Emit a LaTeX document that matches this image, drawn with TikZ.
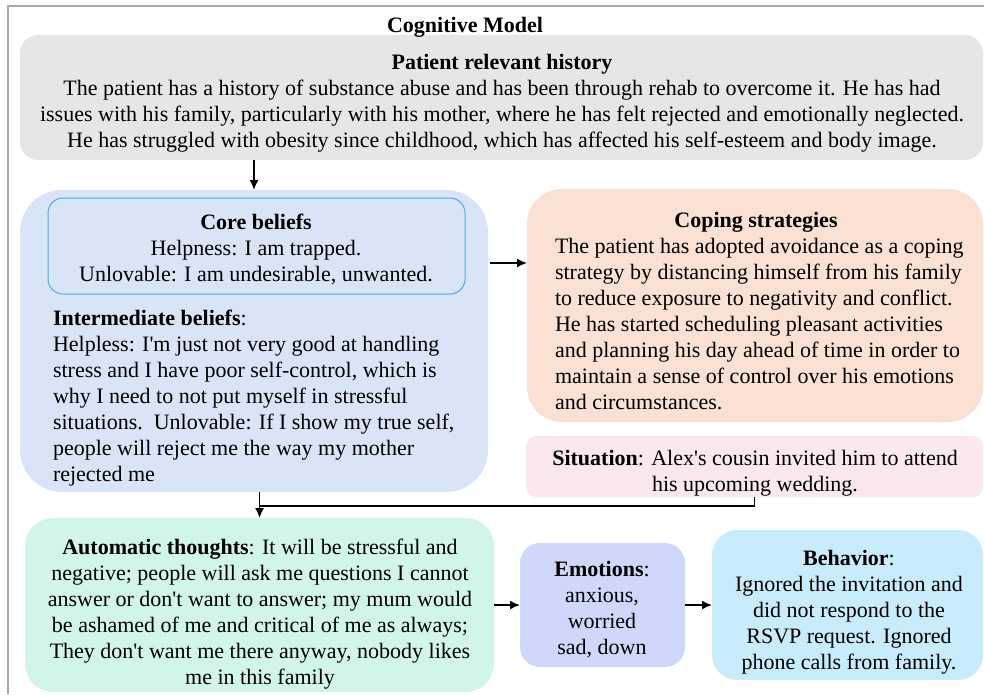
\documentclass[tikz,border=0pt]{standalone}
\usepackage{fontspec}
\newfontfamily\tnr{Liberation Serif}
\usetikzlibrary{arrows.meta}
\definecolor{histcol}{HTML}{E6E6E6}
\definecolor{bluecol}{HTML}{DAE4F7}
\definecolor{corecol}{HTML}{4BADE8}
\definecolor{copecol}{HTML}{FAE1D4}
\definecolor{sitcol}{HTML}{FAE8EC}
\definecolor{autocol}{HTML}{D1F5E8}
\definecolor{emocol}{HTML}{CFD8FA}
\definecolor{behcol}{HTML}{C8ECFC}
\definecolor{framecol}{HTML}{A8A8A8}
\tikzset{
  every node/.style={font=\tnr\fontsize{22}{26}\selectfont, inner sep=0pt, outer sep=0pt},
  box/.style={draw=none, rectangle},
  txt/.style={align=center, anchor=north},
  ltxt/.style={align=left, anchor=north west},
  arr/.style={-{Latex[length=10pt,width=9pt]}, line width=1.6pt},
  conn/.style={line width=1.6pt},
  framel/.style={draw=framecol, line width=2pt}
}
\begin{document}
\begin{tikzpicture}[x=1pt, y=-1pt]
\useasboundingbox (0,0) rectangle (984,694);
\draw[framel] (984,6) -- (8,6) -- (8,694);

% boxes
\node[box, fill=histcol, rounded corners=18pt, minimum width=963pt, minimum height=125pt] (hist) at (501.5,97.5) {};
\node[box, fill=bluecol, rounded corners=42pt, minimum width=468pt, minimum height=302pt] (blue) at (254,341) {};
\node[box, draw=corecol, line width=1pt, rounded corners=15pt, minimum width=417pt, minimum height=96pt] (core) at (256.5,246) {};
\node[box, fill=copecol, rounded corners=35pt, minimum width=456pt, minimum height=233pt] (coping) at (755,305.5) {};
\node[box, fill=sitcol, rounded corners=10pt, minimum width=457pt, minimum height=61pt] (sit) at (754.5,466.5) {};
\node[box, fill=autocol, rounded corners=28pt, minimum width=469pt, minimum height=174pt] (auto) at (259.5,605) {};
\node[box, fill=emocol, rounded corners=20pt, minimum width=165pt, minimum height=124pt] (emo) at (602.5,605) {};
\node[box, fill=behcol, rounded corners=25pt, minimum width=271pt, minimum height=150pt] (beh) at (847.5,605) {};

% texts
\node[txt] (title) at (465,17) {\textbf{Cognitive Model}};
\node[txt] (hist-t) at (502,54) {\textbf{Patient relevant history}\\
The patient has a history of substance abuse and has been through rehab to overcome it. He has had\\
issues with his family, particularly with his mother, where he has felt rejected and emotionally neglected.\\
He has struggled with obesity since childhood, which has affected his self-esteem and body image.};
\node[txt] (core-t) at (256,214) {\textbf{Core beliefs}\\
Helpness: I am trapped.\\
Unlovable: I am undesirable, unwanted.};
\node[ltxt] (inter-t) at (53,310) {\textbf{Intermediate beliefs}:\\
Helpless: I'm just not very good at handling\\
stress and I have poor self-control, which is\\
why I need to not put myself in stressful\\
situations.\ \ Unlovable: If I show my true self,\\
people will reject me the way my mother\\
rejected me};
\node[ltxt] (coping-t) at (555,212) {\makebox[402pt][c]{\textbf{Coping strategies}}\\
The patient has adopted avoidance as a coping\\
strategy by distancing himself from his family\\
to reduce exposure to negativity and conflict.\\
He has started scheduling pleasant activities\\
and planning his day ahead of time in order to\\
maintain a sense of control over his emotions\\
and circumstances.};
\node[txt] (sit-t) at (755,450) {\textbf{Situation}: Alex's cousin invited him to attend\\
his upcoming wedding.};
\node[txt] (auto-t) at (260,539) {\textbf{Automatic thoughts}: It will be stressful and\\
negative; people will ask me questions I cannot\\
answer or don't want to answer; my mum would\\
be ashamed of me and critical of me as always;\\
They don't want me there anyway, nobody likes\\
me in this family};
\node[txt] (emo-t) at (602,561) {\textbf{Emotions}:\\
anxious,\\
worried\\
sad, down};
\node[txt] (beh-t) at (849,550) {\textbf{Behavior}:\\
Ignored the invitation and\\
did not respond to the\\
RSVP request. Ignored\\
phone calls from family.};

% connectors
\coordinate (cp) at (0,263);
\coordinate (jn) at (0,506);
\draw[arr] (blue.north |- hist.south) -- (blue.north);
\draw[arr] ([xshift=2pt]blue.east |- cp) -- (coping.west |- cp);
\draw[arr] (auto.north |- blue.south) -- (auto.north);
\draw[conn] (sit.south) -- (sit.south |- jn) -- (auto.north |- jn);
\draw[arr] (auto.east) -- (emo.west);
\draw[arr] (emo.east) -- (beh.west);
\end{tikzpicture}
\end{document}
